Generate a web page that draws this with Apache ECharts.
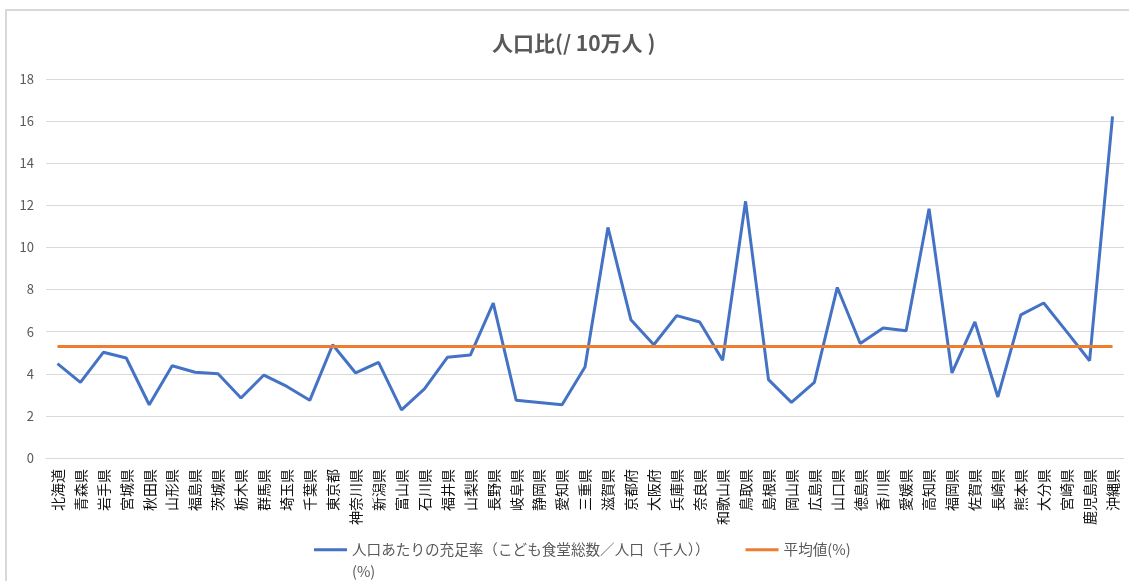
<!DOCTYPE html>
<html lang="ja">
<head>
    <meta charset="UTF-8">
    <title>人口比</title>
    <script src="https://cdn.jsdelivr.net/npm/echarts@6/dist/echarts.min.js"></script>
    <style>
        html, body { margin: 0; padding: 0; background: #fff; }
        #main { width: 1129px; height: 581px; }
    </style>
</head>
<body>
<div id="main"></div>
<script type="text/javascript">
    // 都道府県
    var prefectures = ['北海道', '青森県', '岩手県', '宮城県', '秋田県', '山形県', '福島県', '茨城県', '栃木県', '群馬県',
        '埼玉県', '千葉県', '東京都', '神奈川県', '新潟県', '富山県', '石川県', '福井県', '山梨県', '長野県',
        '岐阜県', '静岡県', '愛知県', '三重県', '滋賀県', '京都府', '大阪府', '兵庫県', '奈良県', '和歌山県',
        '鳥取県', '島根県', '岡山県', '広島県', '山口県', '徳島県', '香川県', '愛媛県', '高知県', '福岡県',
        '佐賀県', '長崎県', '熊本県', '大分県', '宮崎県', '鹿児島県', '沖縄県'];

    // 人口あたりの充足率
    var ratioValues = [4.48, 3.59, 5.02, 4.75, 2.53, 4.38, 4.07, 4.00, 2.85, 3.94,
        3.40, 2.74, 5.38, 4.04, 4.54, 2.29, 3.28, 4.78, 4.89, 7.36,
        2.74, 2.64, 2.53, 4.32, 10.95, 6.57, 5.38, 6.76, 6.46, 4.64,
        12.19, 3.72, 2.64, 3.59, 8.10, 5.44, 6.17, 6.04, 11.84, 4.04,
        6.46, 2.90, 6.80, 7.36, 6.00, 4.62, 16.22];

    // 平均値
    var averageValues = [5.3, 5.3, 5.3, 5.3, 5.3, 5.3, 5.3, 5.3, 5.3, 5.3,
        5.3, 5.3, 5.3, 5.3, 5.3, 5.3, 5.3, 5.3, 5.3, 5.3,
        5.3, 5.3, 5.3, 5.3, 5.3, 5.3, 5.3, 5.3, 5.3, 5.3,
        5.3, 5.3, 5.3, 5.3, 5.3, 5.3, 5.3, 5.3, 5.3, 5.3,
        5.3, 5.3, 5.3, 5.3, 5.3, 5.3, 5.3];

    var yTicks = [0, 18, 2]; // min, max, interval

    var ratioName = '人口あたりの充足率（こども食堂総数／人口（千人））(%)';
    var averageName = '平均値(%)';

    var myChart = echarts.init(document.getElementById('main'));
    var font = '"Noto Sans CJK JP", "Noto Sans", sans-serif';

    var option = {
        animation: false,
        textStyle: { fontFamily: font },
        title: {
            text: '人口比(/ 10万人 )',
            left: 487,
            top: 28,
            textStyle: {
                fontFamily: font,
                fontSize: 21,
                fontWeight: 'bold',
                color: '#595959'
            }
        },
        // 外枠
        graphic: [{
            type: 'rect',
            shape: { x: 6, y: 10, width: 1200, height: 700 },
            style: { fill: 'none', stroke: '#d9d9d9', lineWidth: 2 },
            silent: true,
            z: -10
        }],
        legend: {
            left: 309,
            top: 537,
            itemWidth: 33,
            itemHeight: 3,
            itemGap: 36,
            icon: 'rect',
            data: [ratioName, averageName],
            // (%) は二行目に折り返す
            formatter: function (name) {
                if (name === ratioName) {
                    return '{a|' + name.replace('(%)', '') + '}\n{b|(%)}';
                }
                return name;
            },
            textStyle: {
                fontFamily: font,
                fontSize: 14.6,
                color: '#595959',
                rich: {
                    a: { fontSize: 14.6, color: '#595959', lineHeight: 44 },
                    b: { fontSize: 14.6, color: '#595959', lineHeight: 1 }
                }
            }
        },
        grid: {
            left: 46,
            right: 5,
            top: 79,
            bottom: 123
        },
        xAxis: {
            type: 'category',
            data: prefectures,
            axisTick: { show: false },
            axisLine: { lineStyle: { color: '#d9d9d9', width: 1 } },
            axisLabel: {
                interval: 0,
                rotate: 90,
                margin: 11,
                fontSize: 14,
                color: '#111'
            }
        },
        yAxis: {
            type: 'value',
            min: yTicks[0],
            max: yTicks[1],
            interval: yTicks[2],
            axisLine: { show: false },
            axisTick: { show: false },
            splitLine: { lineStyle: { color: '#d9d9d9', width: 1 } },
            axisLabel: {
                margin: 12,
                fontSize: 13,
                color: '#595959'
            }
        },
        series: [
            {
                name: ratioName,
                type: 'line',
                data: ratioValues,
                symbol: 'none',
                lineStyle: { width: 3, color: '#4472c4' },
                itemStyle: { color: '#4472c4' }
            },
            {
                name: averageName,
                type: 'line',
                data: averageValues,
                symbol: 'none',
                lineStyle: { width: 3, color: '#ed7d31' },
                itemStyle: { color: '#ed7d31' }
            }
        ]
    };
    myChart.setOption(option);
</script>
</body>
</html>
